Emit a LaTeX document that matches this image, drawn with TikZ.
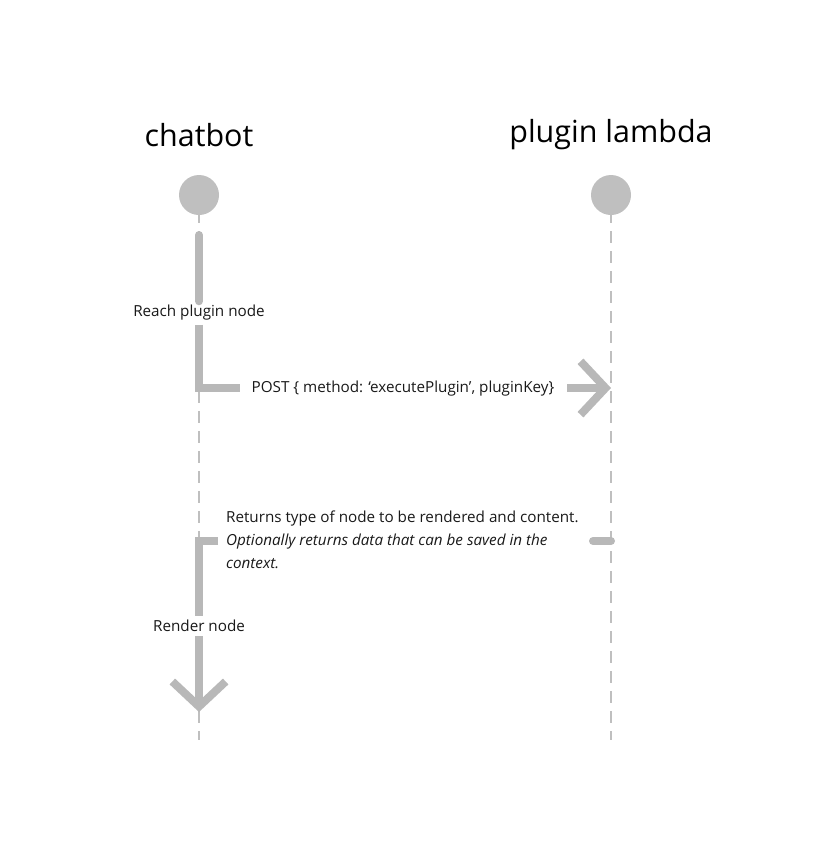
\documentclass[tikz,border=0pt]{standalone}
\usepackage{fontspec}
\setmainfont{Open Sans}
\usetikzlibrary{arrows.meta}
\tikzset{
  lifeline/.style={draw=black!25, line width=.6mm, dash pattern=on 3.6mm off 2.4mm},
  head/.style={circle, fill=black!25, minimum size=12mm, inner sep=0},
  flow/.style={draw=black!28, line width=2.4mm},
  tip/.style={-{Straight Barb[length=7.5mm,width=16mm]}},
  label/.style={font=\fontsize{13}{19.5}\selectfont, text=black!90},
  title/.style={font=\fontsize{26}{30}\selectfont, text=black}
}
\begin{document}
\begin{tikzpicture}[x=0.03cm, y=-0.03cm]
        \useasboundingbox (0,0) rectangle (830,864);
        % actors
        \node[title] (tbot) at (199,135) {chatbot};
        \node[title] (tlam) at (611,135) {plugin lambda};
        \node[head] (hbot) at (199,195) {};
        \node[head] (hlam) at (611,195) {};
        \coordinate (ebot) at (199,740);
        \coordinate (elam) at (611,740);
        \draw[lifeline] (hbot.south) ++(0,-4) -- (ebot);
        \draw[lifeline] (hlam.south) ++(0,-4) -- (elam);
        % labels
        \node[label, fill=white] (reach) at (199,313) {Reach plugin node};
        \node[label] (post) at (403,389) {POST \{ method: ‘executePlugin’, pluginKey\}};
        \node[label, anchor=north west, align=left] (ret) at (222,507)
          {Returns type of node to be rendered and content.\\
           \itshape Optionally returns data that can be saved in the\\
           \itshape context.};
        \node[label, fill=white] (render) at (199,626) {Render node};
        % request
        \coordinate (s1) at (199,235);
        \coordinate (c1) at (199,388);
        \coordinate (p1) at (240,388);
        \coordinate (p2) at (567,388);
        \coordinate (q1) at (611,388);
        \draw[flow, line cap=round] (s1) -- (reach.north);
        \draw[flow] (reach.south) -- (c1) -- (p1);
        \draw[flow, tip] (p2) -- (q1);
        % response
        \coordinate (r0) at (593,541);
        \coordinate (r1) at (611,541);
        \coordinate (r2) at (218,541);
        \coordinate (r3) at (199,541);
        \draw[flow, line cap=round] (r0) -- (r1);
        \draw[flow] (r2) -- (r3) -- (render.north);
        \draw[flow, tip] (render.south) -- (199,712);
\end{tikzpicture}
\end{document}
